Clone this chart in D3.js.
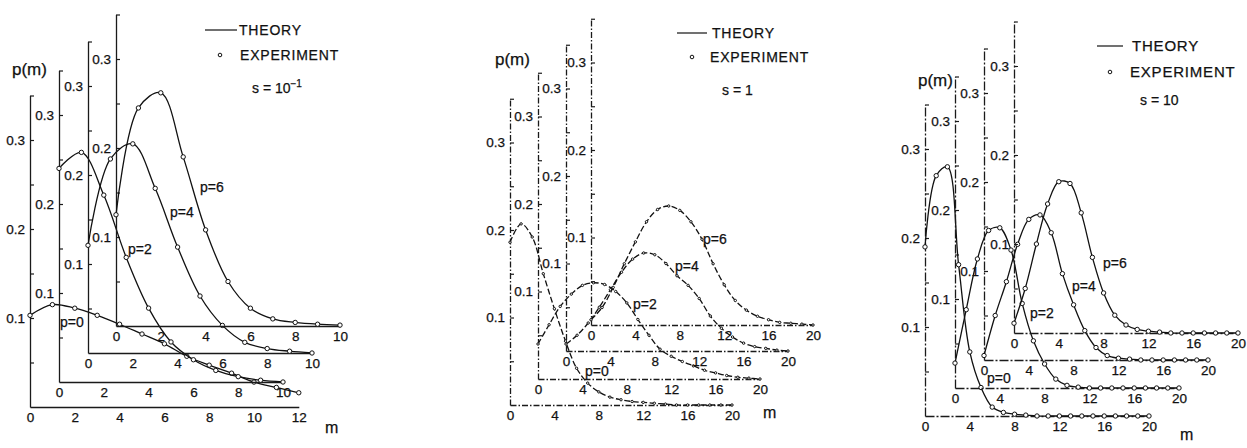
<!DOCTYPE html>
<html>
<head>
<meta charset="utf-8">
<script src="https://cdn.jsdelivr.net/npm/d3@7"></script>
<style>
  body { margin: 0; background: #fff; }
  text { font-family: "Liberation Sans", Arial, sans-serif; fill: #111; stroke: #111; stroke-width: 0.25; }
</style>
</head>
<body>
<svg id="fig" width="1247" height="448"></svg>
<script>
// ---- data ----
var m10 = [0, 1, 2, 3, 4, 5, 6, 7, 8, 9, 10];
var m12 = [0, 1, 2, 3, 4, 5, 6, 7, 8, 9, 10, 11, 12];
var m20 = [0, 1, 2, 3, 4, 5, 6, 7, 8, 9, 10, 11, 12, 13, 14, 15, 16, 17, 18, 19, 20];
var xTicks10 = [0, 2, 4, 6, 8, 10];
var xTicks12 = [0, 2, 4, 6, 8, 10, 12];
var xTicks20 = [0, 4, 8, 12, 16, 20];
var yTicks = [0.05, 0.1, 0.15, 0.2, 0.25, 0.3, 0.35];
var yLabels = [0.1, 0.2, 0.3];
var pValues = [0, 2, 4, 6];

// s = 10^-1
var s01p0 = [0.103, 0.115, 0.111, 0.103, 0.093, 0.082, 0.071, 0.057, 0.047, 0.038, 0.028, 0.022, 0.016];
var s01p2 = [0.24, 0.258, 0.21, 0.14, 0.083, 0.045, 0.025, 0.013, 0.006, 0.002, 0];
var s01p4 = [0.121, 0.218, 0.235, 0.185, 0.119, 0.064, 0.031, 0.012, 0.005, 0.002, 0];
var s01p6 = [0.125, 0.245, 0.262, 0.19, 0.108, 0.05, 0.02, 0.008, 0.004, 0.002, 0.001];
// s = 1
var s1p0 = [0.186, 0.207, 0.192, 0.15, 0.11, 0.073, 0.042, 0.025, 0.015, 0.009, 0.006, 0.004, 0.003, 0.002, 0.001, 0, 0, 0, 0, 0, 0];
var s1p2 = [0.04, 0.062, 0.083, 0.097, 0.107, 0.11, 0.108, 0.1, 0.087, 0.068, 0.05, 0.034, 0.026, 0.02, 0.015, 0.01, 0.007, 0.004, 0.002, 0.001, 0];
var s1p4 = [0.008, 0.018, 0.032, 0.05, 0.07, 0.09, 0.105, 0.112, 0.11, 0.1, 0.086, 0.075, 0.06, 0.04, 0.026, 0.016, 0.009, 0.005, 0.003, 0.001, 0];
var s1p6 = [0.006, 0.02, 0.043, 0.07, 0.095, 0.118, 0.132, 0.136, 0.131, 0.118, 0.098, 0.07, 0.046, 0.028, 0.017, 0.01, 0.006, 0.003, 0.002, 0.001, 0];
// s = 10
var s10p0 = [0.19, 0.27, 0.28, 0.17, 0.072, 0.032, 0.01, 0.004, 0.002, 0.001, 0, 0, 0, 0, 0, 0, 0, 0, 0, 0, 0];
var s10p2 = [0.028, 0.088, 0.145, 0.177, 0.18, 0.155, 0.095, 0.053, 0.027, 0.01, 0.003, 0.001, 0, 0, 0, 0, 0, 0, 0, 0, 0];
var s10p4 = [0.005, 0.05, 0.088, 0.13, 0.158, 0.163, 0.143, 0.097, 0.062, 0.033, 0.014, 0.005, 0.002, 0.001, 0, 0, 0, 0, 0, 0, 0];
var s10p6 = [0.011, 0.05, 0.1, 0.145, 0.17, 0.168, 0.135, 0.085, 0.045, 0.02, 0.009, 0.004, 0.002, 0.001, 0, 0, 0, 0, 0, 0, 0];

// ---- layout: each panel holds four shifted axis systems ----
var panels = [
  {
    kx: 22.4, ky: 890,
    origins: [[30, 407], [59, 382], [88, 353], [116, 326]],
    ms: [m12, m10, m10, m10],
    xt: [xTicks12, xTicks10, xTicks10, xTicks10],
    series: [s01p0, s01p2, s01p4, s01p6],
    pPos: [[60, 327], [128, 254], [170, 217], [200, 192]],
    axisDash: null, curveDash: null, r: 2.2,
    pm: [12, 75], mPos: [325, 433],
    legend: { x1: 205, x2: 237, y: 30, tx: 239, ex: 220, ey: 55, etx: 240, fs: 14 },
    s: { x: 252, y: 93, base: "s = 10", sup: "\u22121" }
  },
  {
    kx: 11.1, ky: 875,
    origins: [[510, 405], [538, 379], [566, 351], [591, 325]],
    ms: [m20, m20, m20, m20],
    xt: [xTicks20, xTicks20, xTicks20, xTicks20],
    series: [s1p0, s1p2, s1p4, s1p6],
    pPos: [[585, 376], [633, 309], [675, 271], [703, 244]],
    axisDash: "6,2,1.5,2", curveDash: "6,2.5", r: 1.2,
    pm: [495, 65], mPos: [763, 418],
    legend: { x1: 677, x2: 707, y: 33, tx: 712, ex: 692, ey: 57, etx: 710, fs: 14 },
    s: { x: 722, y: 95, base: "s = 1", sup: "" }
  },
  {
    kx: 11.2, ky: 890,
    origins: [[925, 416], [955, 388], [984, 360], [1014, 333]],
    ms: [m20, m20, m20, m20],
    xt: [xTicks20, xTicks20, xTicks20, xTicks20],
    series: [s10p0, s10p2, s10p4, s10p6],
    pPos: [[987, 383], [1030, 318], [1072, 291], [1103, 268]],
    axisDash: "9,2,2,2", curveDash: null, r: 2.2,
    pm: [918, 86], mPos: [1180, 440],
    legend: { x1: 1097, x2: 1123, y: 46, tx: 1132, ex: 1110, ey: 72, etx: 1130, fs: 15 },
    s: { x: 1140, y: 105, base: "s = 10", sup: "" }
  }
];

var svg = d3.select("#fig");
var fmt = d3.format(".1f");

panels.forEach(function (pn) {
  var g = svg.append("g");

  pValues.forEach(function (p, k) {
    var x0 = pn.origins[k][0], y0 = pn.origins[k][1];
    var m = pn.ms[k];
    var xmax = m[m.length - 1];
    var x = d3.scaleLinear().domain([0, xmax]).range([x0, x0 + xmax * pn.kx]);
    var y = d3.scaleLinear().domain([0, 0.35]).range([y0, y0 - 0.35 * pn.ky]);

    // x axis: labels only, plain baseline
    var gx = g.append("g").attr("transform", "translate(0," + y0 + ")")
      .call(d3.axisBottom(x).tickValues(pn.xt[k]).tickSize(0).tickSizeOuter(0).tickPadding(5));
    gx.select(".domain").attr("stroke", "#1a1a1a").attr("stroke-width", 1.3)
      .attr("stroke-dasharray", pn.axisDash);
    gx.selectAll("text").attr("font-size", 13.5).attr("font-family", "Liberation Sans, Arial, sans-serif");

    // y axis: ticks pointing inward, labels at 0.1 steps
    var gy = g.append("g").attr("transform", "translate(" + x0 + ",0)")
      .call(d3.axisLeft(y).tickValues(yTicks).tickSize(-4).tickSizeOuter(0).tickPadding(5)
        .tickFormat(function (d) { return yLabels.some(function (v) { return Math.abs(v - d) < 1e-9; }) ? fmt(d) : ""; }));
    gy.select(".domain").attr("stroke", "#1a1a1a").attr("stroke-width", 1.3)
      .attr("stroke-dasharray", pn.axisDash);
    gy.selectAll(".tick line").attr("stroke", "#1a1a1a").attr("stroke-width", 1.2);
    gy.selectAll("text").attr("font-size", 13.5).attr("font-family", "Liberation Sans, Arial, sans-serif");

    // theory curve
    var vals = pn.series[k];
    var line = d3.line()
      .x(function (d, i) { return x(m[i]); })
      .y(function (d) { return y(d); })
      .curve(d3.curveCatmullRom.alpha(0.5));
    g.append("path").datum(vals)
      .attr("d", line)
      .attr("fill", "none")
      .attr("stroke", "#111")
      .attr("stroke-width", 1.3)
      .attr("stroke-dasharray", pn.curveDash);

    // experiment points
    g.selectAll(null).data(vals).enter().append("circle")
      .attr("cx", function (d, i) { return x(m[i]); })
      .attr("cy", function (d) { return y(d); })
      .attr("r", pn.r)
      .attr("fill", "#fff")
      .attr("stroke", "#111")
      .attr("stroke-width", 1);

    // curve label
    g.append("text")
      .attr("x", pn.pPos[k][0]).attr("y", pn.pPos[k][1])
      .attr("font-size", 14)
      .text("p=" + p);
  });

  // axis titles
  g.append("text").attr("x", pn.pm[0]).attr("y", pn.pm[1]).attr("font-size", 17).text("p(m)");
  g.append("text").attr("x", pn.mPos[0]).attr("y", pn.mPos[1]).attr("font-size", 16).text("m");

  // legend
  var L = pn.legend;
  g.append("line").attr("x1", L.x1).attr("x2", L.x2).attr("y1", L.y).attr("y2", L.y)
    .attr("stroke", "#111").attr("stroke-width", 1.2);
  g.append("text").attr("x", L.tx).attr("y", L.y + 5).attr("font-size", L.fs)
    .attr("letter-spacing", 0.8).text("THEORY");
  g.append("circle").attr("cx", L.ex).attr("cy", L.ey).attr("r", 1.8)
    .attr("fill", "#fff").attr("stroke", "#111").attr("stroke-width", 1);
  g.append("text").attr("x", L.etx).attr("y", L.ey + 5).attr("font-size", L.fs)
    .attr("letter-spacing", 0.8).text("EXPERIMENT");

  var st = g.append("text").attr("x", pn.s.x).attr("y", pn.s.y).attr("font-size", 14).text(pn.s.base);
  if (pn.s.sup) st.append("tspan").attr("dy", -6).attr("font-size", 10).text(pn.s.sup);
});
</script>
</body>
</html>
